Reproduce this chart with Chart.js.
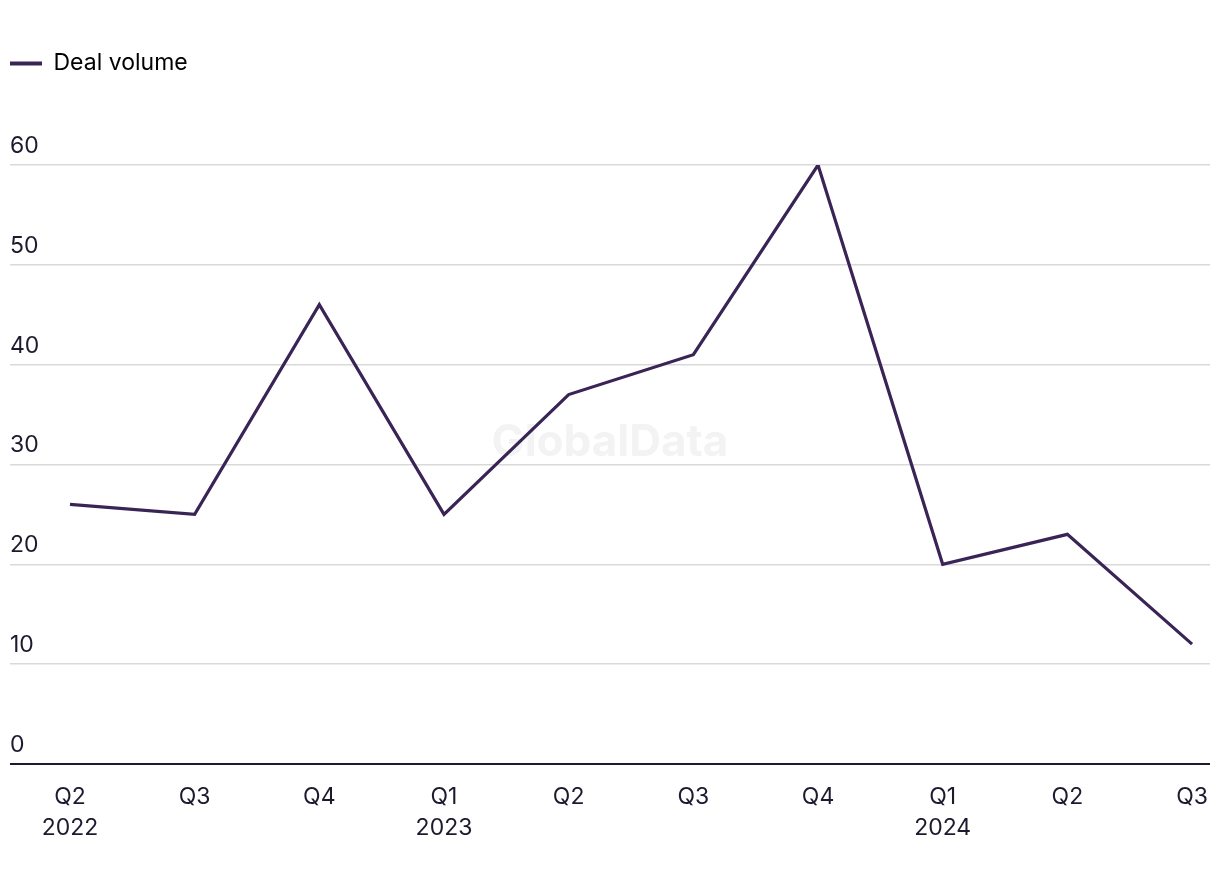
<!DOCTYPE html>
<html>
<head>
<meta charset="utf-8">
<script src="https://cdn.jsdelivr.net/npm/chart.js@4.4.1/dist/chart.umd.min.js"></script>
<style>
  html, body { margin: 0; padding: 0; background: #fff; }
  #wrap { width: 1220px; height: 884px; }
</style>
</head>
<body>
<div id="wrap"><canvas id="dealChart" width="1220" height="884"></canvas></div>
<script>
// quarters on the x axis (second line = year)
var quarters = [
    ['Q2', '2022'], 'Q3', 'Q4',
    ['Q1', '2023'], 'Q2', 'Q3', 'Q4',
    ['Q1', '2024'], 'Q2', 'Q3'
];

var dealVolume = [26, 25, 46, 25, 37, 41, 60, 20, 23, 12];

var yTicks = [0, 10, 20, 30, 40, 50, 60];

var lineColor = '#3a2456';
var textColor = '#1c1a2e';
var fontName = 'Inter, "Noto Sans", sans-serif';

// faint watermark behind the line
var watermark = {
    id: 'watermark',
    beforeDatasetsDraw: function(chart) {
        var a = chart.chartArea;
        var ctx = chart.ctx;
        ctx.save();
        ctx.font = 'bold 44px ' + fontName;
        ctx.fillStyle = '#f3f3f3';
        ctx.textAlign = 'center';
        ctx.textBaseline = 'middle';
        ctx.fillText('GlobalData', (a.left + a.right) / 2, 443);
        ctx.restore();
    }
};

// extra room under the legend
var legendGap = {
    id: 'legendGap',
    beforeInit: function(chart) {
        var origFit = chart.legend.fit;
        chart.legend.fit = function() {
            origFit.bind(chart.legend)();
            this.height += 80;
        };
    }
};

var pts = dealVolume.map(function(v, i) { return { x: i, y: v }; });

var myChart = new Chart(document.getElementById('dealChart'), {
    type: 'line',
    data: {
        datasets: [{
            label: 'Deal volume',
            data: pts,
            borderColor: lineColor,
            backgroundColor: lineColor,
            borderWidth: 3.2,
            pointRadius: 0,
            tension: 0
        }]
    },
    options: {
        responsive: false,
        animation: false,
        layout: { padding: { left: 10, right: 10, top: 52, bottom: 30 } },
        plugins: {
            legend: {
                position: 'top',
                align: 'start',
                labels: {
                    boxWidth: 32,
                    boxHeight: 4,
                    padding: 0,
                    color: textColor,
                    font: { family: fontName, size: 23 },
                    generateLabels: function(chart) {
                        return [{
                            text: 'Deal volume',
                            fillStyle: lineColor,
                            strokeStyle: lineColor,
                            lineWidth: 0,
                            datasetIndex: 0
                        }];
                    }
                }
            },
            tooltip: { enabled: false }
        },
        scales: {
            x: {
                type: 'linear',
                min: -0.481,
                max: 9.144,
                afterBuildTicks: function(s) {
                    s.ticks = quarters.map(function(q, i) { return { value: i }; });
                },
                grid: { display: false },
                border: { display: false },
                ticks: {
                    autoSkip: false,
                    maxRotation: 0,
                    padding: 10,
                    color: textColor,
                    font: { family: fontName, size: 23, lineHeight: 1.35 },
                    callback: function(v) { return quarters[v]; }
                }
            },
            y: {
                min: 0,
                max: 60,
                afterBuildTicks: function(s) {
                    s.ticks = yTicks.map(function(v) { return { value: v }; });
                },
                afterFit: function(s) { s.width = 0; },
                border: { display: false },
                grid: {
                    drawTicks: false,
                    color: function(c) { return c.tick && c.tick.value === 0 ? textColor : '#d9d9d9'; },
                    lineWidth: function(c) { return c.tick && c.tick.value === 0 ? 2 : 1.5; }
                },
                ticks: {
                    mirror: true,
                    padding: 0,
                    labelOffset: -19,
                    color: textColor,
                    font: { family: fontName, size: 23 }
                }
            }
        }
    },
    plugins: [watermark, legendGap]
});
</script>
</body>
</html>
